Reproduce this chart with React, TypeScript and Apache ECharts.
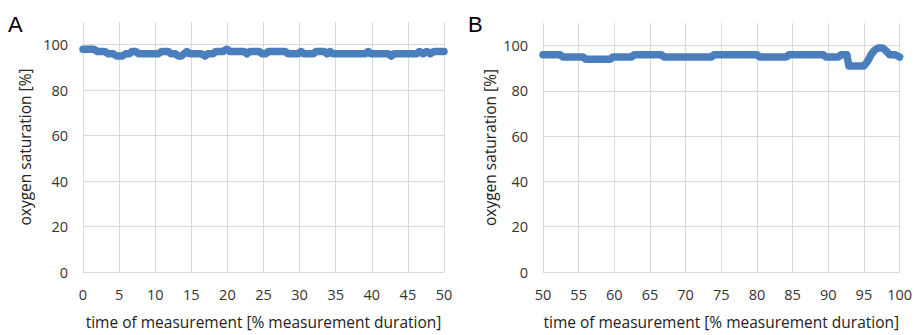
import React, { useEffect, useRef } from "react";
import * as echarts from "echarts";

// Panel A: first half of the measurement
const timeA = [0, 1.5, 2, 3, 3.5, 4.2, 4.7, 5.4, 5.9, 6.4, 6.8, 7.3, 7.7, 10.4, 10.9, 11.8, 12.2, 12.8, 13.2, 13.6, 14, 14.4, 14.8, 16.4, 16.9, 17.3, 18, 18.4, 19.4, 19.9, 20.4, 22.3, 22.7, 23.1, 24.4, 24.8, 25.3, 25.7, 28, 28.4, 29.8, 30.2, 30.6, 31.9, 32.3, 33.4, 33.8, 34.2, 34.6, 39.1, 39.5, 39.9, 42.3, 42.7, 43.1, 46.2, 46.6, 47.1, 47.6, 48.1, 48.6, 50];
const spo2A = [98, 98, 97, 97, 96, 96, 95, 95, 96, 96, 97, 97, 96, 96, 97, 97, 96, 96, 95, 95, 96, 97, 96, 96, 95, 96, 96, 97, 97, 98, 97, 97, 96, 97, 97, 96, 96, 97, 97, 96, 96, 97, 96, 96, 97, 97, 96, 97, 96, 96, 97, 96, 96, 95, 96, 96, 97, 96, 97, 96, 97, 97];

// Panel B: second half of the measurement
const timeB = [50, 52.4, 52.8, 55.6, 56, 59.4, 59.8, 62.4, 62.8, 66.6, 67, 73.6, 74, 80, 80.4, 84.1, 84.5, 89.3, 89.7, 91.4, 91.8, 92.6, 92.9, 95, 95.5, 96, 96.5, 97, 97.6, 98, 98.6, 99.4, 100];
const spo2B = [96, 96, 95, 95, 94, 94, 95, 95, 96, 96, 95, 95, 96, 96, 95, 95, 96, 96, 95, 95, 96, 96, 91, 91, 93, 96, 98, 99, 99, 98, 96, 96, 95];

const xTicksA = [0, 50];
const xTicksB = [50, 100];
const yRange = [0, 110];
const panelLabels = ["A", "B"];
const xTitle = "time of measurement [% measurement duration]";
const yTitle = "oxygen saturation [%]";

const FONT = "'Open Sans', sans-serif";
const GRID = "#d9d9d9";
const LINE = "#4a7ebd";

export default function App() {
  const ref = useRef<HTMLDivElement>(null);
  useEffect(() => {
    if (!ref.current) return;
    const chart = echarts.init(ref.current, undefined, { renderer: "svg" });
    const xAxis = (idx: number, ticks: number[]) => ({
      type: "value",
      gridIndex: idx,
      min: ticks[0],
      max: ticks[1],
      interval: 5,
      name: xTitle,
      nameLocation: "middle",
      nameGap: 42,
      nameTextStyle: { fontFamily: FONT, fontSize: 15.5, color: "#222" },
      axisLine: { show: true, lineStyle: { color: GRID, width: 1 } },
      axisTick: { show: false },
      axisLabel: { fontFamily: FONT, fontSize: 14.5, color: "#333", margin: 15 },
      splitLine: { show: true, lineStyle: { color: GRID, width: 1 } },
    });
    const yAxis = (idx: number, gap: number) => ({
      type: "value",
      gridIndex: idx,
      min: yRange[0],
      max: yRange[1],
      interval: 20,
      name: yTitle,
      nameLocation: "middle",
      nameGap: gap,
      nameTextStyle: { fontFamily: FONT, fontSize: 15.5, color: "#222" },
      axisLine: { show: false },
      axisTick: { show: false },
      axisLabel: { fontFamily: FONT, fontSize: 14.5, color: "#333", margin: 15, showMaxLabel: false },
      splitLine: {
        show: true,
        lineStyle: { color: [GRID, GRID, GRID, GRID, GRID, GRID, "rgba(0,0,0,0)"], width: 1 },
      },
    });
    const series = (idx: number, xs: number[], ys: number[]) => ({
      type: "line",
      xAxisIndex: idx,
      yAxisIndex: idx,
      data: xs.map((x, i) => [x, ys[i]]),
      showSymbol: false,
      symbol: "none",
      lineStyle: { color: LINE, width: 7.5, cap: "round", join: "round" },
      itemStyle: { color: LINE },
    });
    chart.setOption({
      animation: false,
      backgroundColor: "#ffffff",
      grid: [
        { left: 83, top: 22, width: 361, height: 256 },
        { left: 543, top: 23, width: 357, height: 257 },
      ],
      xAxis: [xAxis(0, xTicksA), xAxis(1, xTicksB)],
      yAxis: [yAxis(0, 50), yAxis(1, 45)],
      series: [series(0, timeA, spo2A), series(1, timeB, spo2B)],
      graphic: [
        { type: "text", left: 8, top: 13, style: { text: panelLabels[0], font: "22px 'Liberation Sans', Arial, sans-serif", fill: "#000" } },
        { type: "text", left: 468, top: 13, style: { text: panelLabels[1], font: "22px 'Liberation Sans', Arial, sans-serif", fill: "#000" } },
      ],
    });
    return () => chart.dispose();
  }, []);
  return (
    <div
      ref={ref}
      style={{ position: "fixed", left: 0, top: 0, width: 915, height: 335, background: "#fff" }}
    />
  );
}
